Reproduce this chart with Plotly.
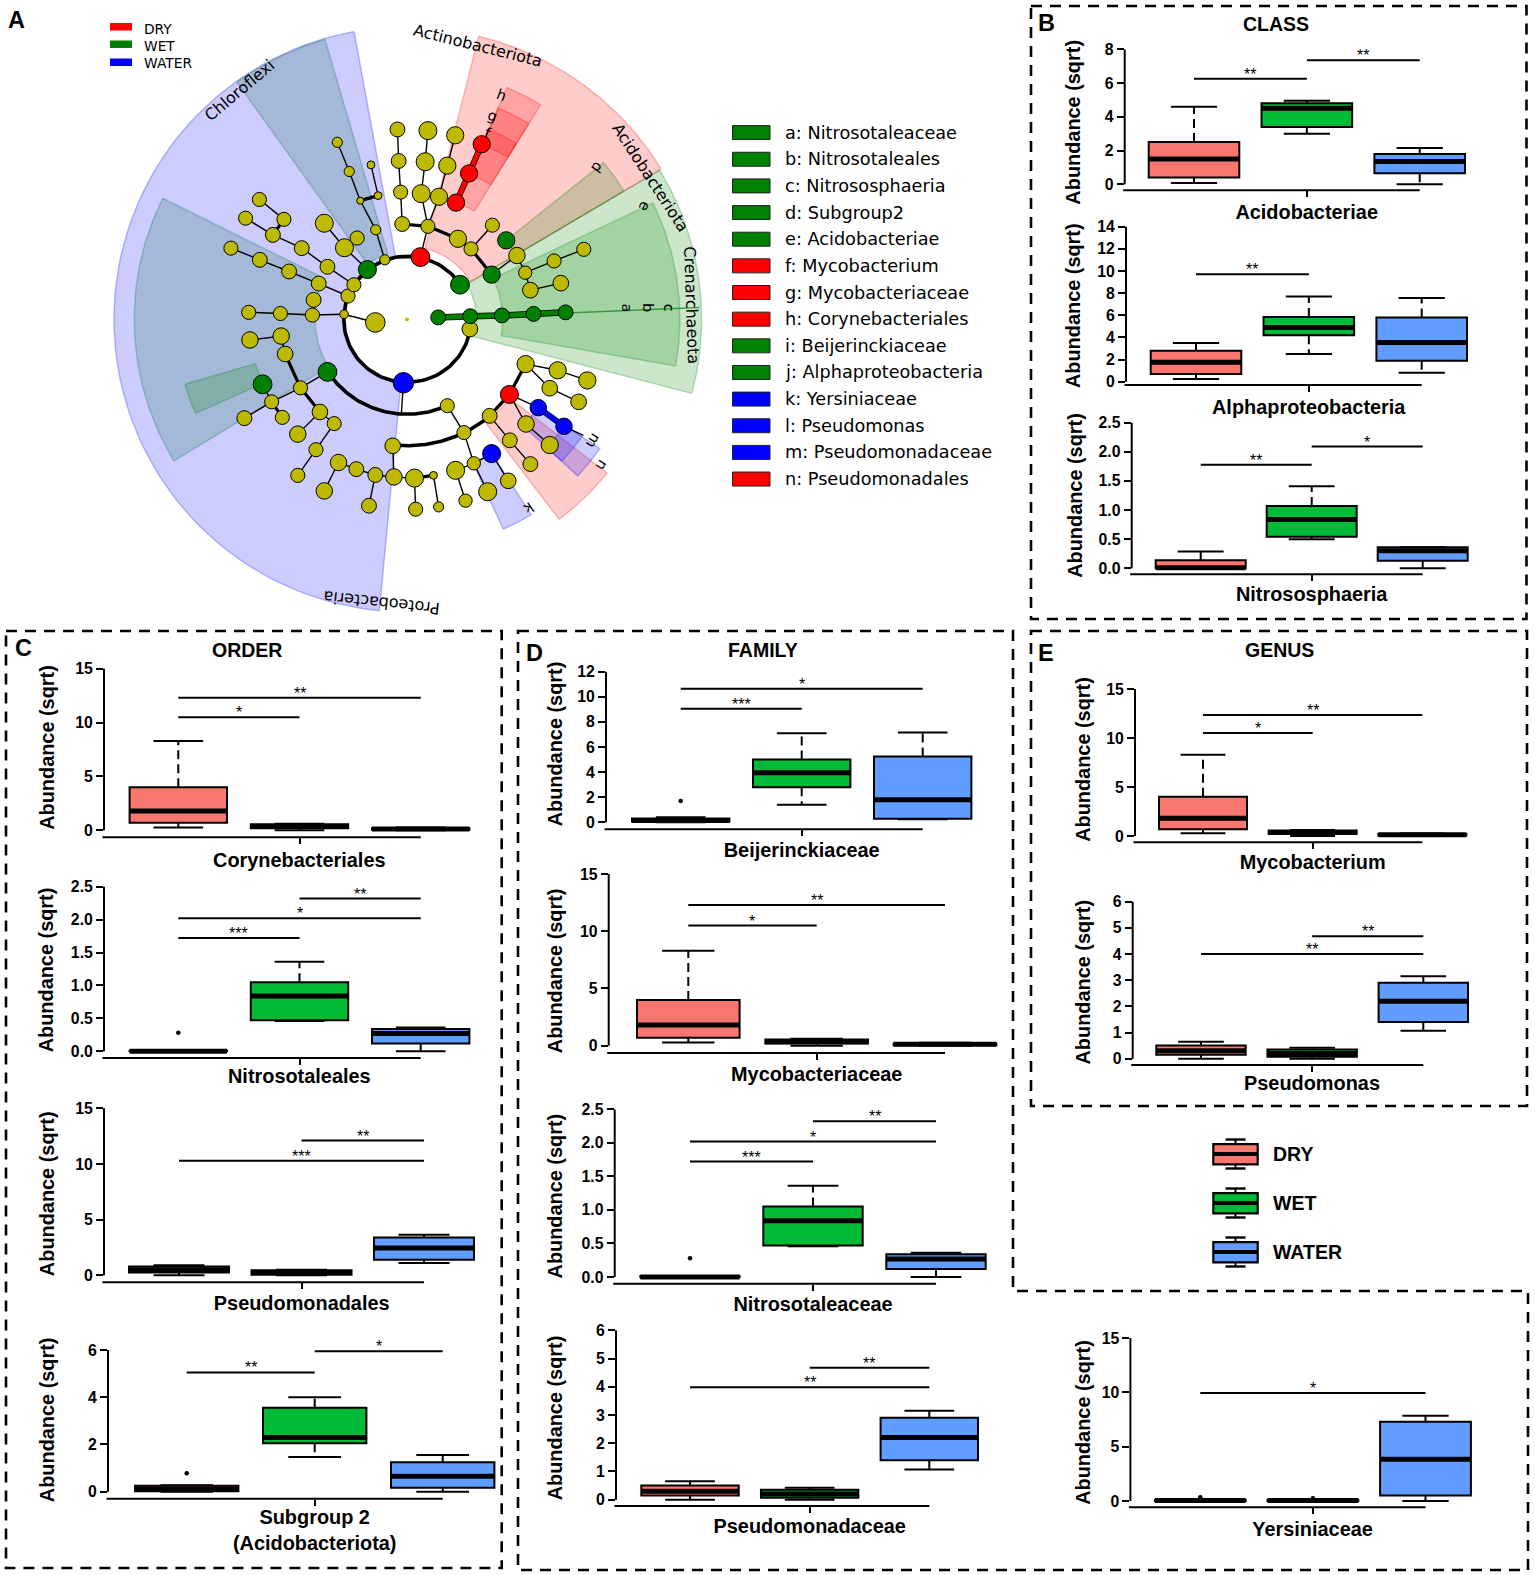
import numpy as np
import plotly.graph_objects as go

W, H = 1535, 1575
SANS = "Liberation Sans"
DEJA = "DejaVu Sans"
GROUP_NAMES = ["DRY", "WET", "WATER"]
BOX_COLORS = ["#F8766D", "#00BA38", "#619CFF"]

# ---------------- box-plot data (sqrt abundance) ----------------
taxa = ["Acidobacteriae", "Alphaproteobacteria", "Nitrososphaeria",
        "Corynebacteriales", "Nitrosotaleales", "Pseudomonadales", "Subgroup 2<br>(Acidobacteriota)",
        "Beijerinckiaceae", "Mycobacteriaceae", "Nitrosotaleaceae", "Pseudomonadaceae",
        "Mycobacterium", "Pseudomonas", "Yersiniaceae"]
y_ticks = [[0, 2, 4, 6, 8], [0, 2, 4, 6, 8, 10, 12, 14], [0, .5, 1, 1.5, 2, 2.5],
           [0, 5, 10, 15], [0, .5, 1, 1.5, 2, 2.5], [0, 5, 10, 15], [0, 2, 4, 6],
           [0, 2, 4, 6, 8, 10, 12], [0, 5, 10, 15], [0, .5, 1, 1.5, 2, 2.5], [0, 1, 2, 3, 4, 5, 6],
           [0, 5, 10, 15], [0, 1, 2, 3, 4, 5, 6], [0, 5, 10, 15]]
whisker_low = [[.07, 3.0, 0], [.25, 2.5, .8], [0, .5, 0],
               [.27, 0, 0], [0, .46, 0], [0, 0, 1.1], [0, 1.47, 0],
               [0, 1.4, .25], [.27, 0, 0], [0, .46, 0], [0, 0, 1.07],
               [.27, 0, 0], [0, 0, 1.07], [0, 0, 0]]
box_q1 = [[.4, 3.4, .65], [.7, 4.2, 1.9], [0, .54, .13],
          [.7, .2, .05], [0, .47, .12], [.25, .05, 1.4], [.02, 2.05, .17],
          [.05, 2.8, .28], [.7, .2, .05], [0, .47, .12], [.15, .07, 1.4],
          [.7, .2, .05], [.15, .07, 1.4], [0, 0, .5]]
box_median = [[1.5, 4.5, 1.35], [1.75, 4.9, 3.55], [.01, .84, .3],
              [1.8, .35, .13], [0, .84, .27], [.5, .25, 2.45], [.1, 2.3, .65],
              [.15, 3.95, 1.8], [1.8, .35, .13], [0, .84, .27], [.3, .2, 2.2],
              [1.8, .35, .13], [.3, .2, 2.2], [.05, .05, 3.85]]
box_q3 = [[2.5, 4.8, 1.8], [2.8, 5.85, 5.8], [.14, 1.07, .36],
          [4.0, .55, .2], [.01, 1.05, .34], [.8, .45, 3.4], [.25, 3.55, 1.25],
          [.3, 5.0, 5.25], [4.0, .55, .2], [.01, 1.05, .34], [.5, .35, 2.9],
          [4.0, .55, .2], [.5, .35, 2.9], [.1, .1, 7.3]]
whisker_high = [[4.6, 4.95, 2.15], [3.5, 7.7, 7.55], [.29, 1.41, .36],
                [8.3, .6, .25], [.01, 1.36, .36], [.9, .5, 3.65], [.27, 4.0, 1.55],
                [.4, 7.1, 7.15], [8.3, .6, .25], [.01, 1.36, .36], [.65, .42, 3.15],
                [8.3, .6, .25], [.65, .42, 3.15], [.12, .12, 7.85]]
outliers = [[None]*3, [None]*3, [None]*3,
            [None]*3, [.28, None, None], [None]*3, [.78, None, None],
            [1.7, None, None], [None]*3, [.28, None, None], [None]*3,
            [None]*3, [None]*3, [.35, .25, None]]
significance = [[(0, 1, 6.25, "**"), (1, 2, 7.35, "**")],
                [(0, 1, 9.7, "**")],
                [(0, 1, 1.78, "**"), (1, 2, 2.09, "*")],
                [(0, 1, 10.5, "*"), (0, 2, 12.3, "**")],
                [(0, 1, 1.72, "***"), (0, 2, 2.02, "*"), (1, 2, 2.32, "**")],
                [(0, 2, 10.3, "***"), (1, 2, 12.1, "**")],
                [(0, 1, 5.05, "**"), (1, 2, 5.95, "*")],
                [(0, 1, 9.05, "***"), (0, 2, 10.65, "*")],
                [(0, 1, 10.5, "*"), (0, 2, 12.3, "**")],
                [(0, 1, 1.72, "***"), (0, 2, 2.02, "*"), (1, 2, 2.32, "**")],
                [(0, 2, 3.98, "**"), (1, 2, 4.67, "**")],
                [(0, 1, 10.5, "*"), (0, 2, 12.35, "**")],
                [(0, 2, 4.0, "**"), (1, 2, 4.68, "**")],
                [(0, 2, 9.95, "*")]]

# ---------------- cladogram data ----------------
node_x = [752,755,760,764,829,822,812,829,898,878,857,905,938,992,1054,1075,1088,1165,1148,1223,
          810,910,990,1027,900,933,965,935,855,936,1016,1096,1177,696,776,617,537,456,376,627,
          540,553,642,478,404,331,676,720,575,510,437,403,368,465,618,650,567,697,658,703,
          685,630,600,575,507,468,458,379,411,434,365,461,556,592,500,546,500,767,878,920,
          985,1035,1076,1157,1232,1137,1210,1108,1173,1077,1137,1036,1088,740,945,990,899,980,1032,924,
          743,795,843,696,648,603,567,680,798,856]
node_y = [307,388,468,550,310,390,472,556,322,400,480,588,614,553,631,675,720,702,645,615,
          635,706,680,592,495,420,345,820,790,787,785,781,777,803,795,782,784,780,777,735,
          745,703,706,672,642,612,667,642,660,612,578,487,535,538,611,586,548,565,490,477,
          398,415,340,930,971,884,838,848,962,1007,1049,1047,1033,1063,1090,1130,1196,958,1017,1086,
          1043,988,910,926,952,972,1007,1022,1070,1064,1118,1106,1167,1120,1165,1140,1183,1238,1210,1261,
          1200,1203,1196,1195,1180,1163,1236,1274,1283,1277]
node_r = [19,19,18,19,23,23,23,18,22,22,22,22,18,18,21,17,20,20,18,18,
          24,24,22,22,22,22,22,20,19,19,19,19,19,25,5,11,18,18,18,18,
          19,19,18,19,19,18,23,13,19,19,19,18,18,18,23,18,23,13,9,10,
          10,13,13,24,18,20,21,21,24,18,19,18,20,18,21,18,18,26,18,18,
          19,23,22,22,22,20,20,21,21,21,22,19,19,20,17,23,23,23,20,17,
          21,23,10,19,19,21,21,19,18,13]
red_nodes = [20, 24, 25, 26, 81]
green_nodes = [21, 22, 23, 28, 29, 30, 31, 32, 46, 63, 68]
blue_nodes = [77, 87, 88, 95]
thin_edges = [(0,1),(1,2),(2,3),(4,5),(5,6),(6,7),(8,9),(9,10),(10,7),(12,13),(22,14),(14,15),(15,16),
              (16,17),(15,18),(18,19),(33,35),(35,36),(36,37),(37,38),(36,40),(39,41),(41,43),(43,44),
              (44,45),(42,48),(48,49),(49,50),(50,52),(53,51),(54,56),(46,54),(47,57),(57,58),(58,61),
              (61,62),(59,60),(65,66),(66,67),(64,69),(69,68),(69,70),(72,74),(72,73),(73,75),(75,76),
              (78,79),(79,94),(94,95),(94,96),(94,97),(95,98),(96,99),(80,91),(91,92),(89,90),(82,83),
              (83,84),(85,86),(81,87),(82,85),(93,100),(100,101),(103,100),(104,103),(105,104),(105,106),
              (103,107),(101,108),(102,109),(81,89),(7,20),(63,64)]
thick_edges = [(3,7),(7,11),(11,12),(12,22),(46,42),(42,39),(53,50),(54,55),(58,59),(64,65),(64,72),
               (69,71),(101,102),(80,81),(81,82)]
green_chain = [28, 29, 30, 31, 32]
red_chain = [24, 25, 26]
blue_chain = [87, 88]
stem_x = [[767, 762], [1173, 1222]]
stem_y = [[958, 1036], [1070, 1093]]
arc_radius = [162, 244, 325]
arc_start = [34, 214, 263.6]
arc_stop = [350, 295, 310]
sector_inner = [165, 188, 176, 175, 236, 405, 242, 320, 326, 406, 488, 330, 402, 483, 406]
sector_outer = [752, 750, 745, 750, 700, 594, 690, 640, 647, 590, 530, 642, 590, 535, 592]
sector_start = [100.4, 31, -14.8, 106.3, 153.6, 196.3, -10, 31, 58.5, 58.5, 58.5, -53.2, -43, -43, -65.7]
sector_stop = [264.6, 76, 31, 125.6, 211.3, 204, 25.7, 39, 67, 67, 67, -38, -34.3, -34.3, -58]
sector_color = ["0,0,255", "255,0,0", "0,128,0", "0,109,55", "0,109,55", "0,128,0", "0,128,0", "0,128,0",
                "255,0,0", "255,0,0", "255,0,0", "255,0,0", "0,0,255", "0,0,255", "0,0,255"]
clade_labels = ["Actinobacteriota", "Chloroflexi", "Acidobacteriota", "Crenarchaeota", "Proteobacteria",
                "a", "b", "c", "d", "e", "f", "g", "h", "k", "m", "n"]
clade_label_x = [955, 352, 1392, 1495, 713, 1332, 1387, 1438, 1258, 1375, 980, 993, 1015, 1083, 1248, 1268]
clade_label_y = [90, 207, 430, 760, 1523, 767, 765, 765, 405, 505, 315, 272, 218, 1280, 1107, 1170]
clade_label_angle = [14, -40, 57, 88, -174, 90, 90, 90, 125, 115, 20, 20, 20, 145, 122, 122]
legend_taxa = ["a: Nitrosotaleaceae", "b: Nitrosotaleales", "c: Nitrososphaeria", "d: Subgroup2",
               "e: Acidobacteriae", "f: Mycobacterium", "g: Mycobacteriaceae", "h: Corynebacteriales",
               "i: Beijerinckiaceae", "j: Alphaproteobacteria", "k: Yersiniaceae", "l: Pseudomonas",
               "m: Pseudomonadaceae", "n: Pseudomonadales"]
legend_taxa_color = ["green"]*5 + ["red"]*3 + ["green"]*2 + ["blue"]*3 + ["red"]

# ---------------- layout geometry (pixels) ----------------
# y0, ytop, axis x, x-line y, c0, c1, c2, half box width, y-title x, x-title centre y, y-title shift
geom = [
    (184.3, 49.3, 1124.7, 190.3, 1194, 1306.7, 1419.7, 45.3, 1073, 215.1, 2.5),
    (381.7, 226.7, 1126, 385, 1196, 1308.7, 1421.7, 45.3, 1073, 410.4, -1.5),
    (568.3, 422.7, 1131.7, 574.3, 1200.7, 1311.7, 1422.7, 45, 1075, 597.5, -3),
    (830.3, 668.7, 104, 837.3, 178.3, 299.3, 420.7, 48.7, 47, 862.8, -5),
    (1051.3, 886.7, 104, 1058, 178.3, 299.3, 420.7, 48.7, 46.5, 1079.5, -2),
    (1275.3, 1108.3, 104, 1282.3, 179, 301.7, 424, 50, 47, 1305.8, -1),
    (1491.7, 1350, 108, 1498.7, 186.7, 314.7, 442.7, 51.7, 47, 1532.5, -4),
    (822.3, 671.7, 606, 829.3, 680.7, 801.7, 922.7, 48.7, 555, 853.5, -6),
    (1045.7, 874, 608.7, 1053, 688.3, 816.7, 945, 51.3, 555, 1076.8, 8),
    (1277, 1109.3, 614.7, 1283.7, 690, 813, 936, 49.7, 555, 1307.5, 0),
    (1499.7, 1330.3, 616, 1506, 690, 809.7, 929.3, 48.7, 555, 1529.5, 0),
    (836, 689, 1135, 842.3, 1203, 1312.7, 1422.3, 44, 1083, 865.5, -6),
    (1058.7, 901.7, 1132.7, 1065, 1201, 1312, 1423.3, 44.7, 1083, 1085.8, -1),
    (1501, 1338, 1130.4, 1507.3, 1200.3, 1312.6, 1425.5, 45.4, 1083, 1532, 0),
]
FONT_TICK = 15.8
FONT_LABEL = 19.9
ELLIPSE_LEFT = 0.985


def fx(p):
    return p / W


def fy(p):
    return 1 - p / H


def squeeze(v):
    v = np.asarray(v, dtype=float)
    return np.where(v < 0, ELLIPSE_LEFT*v, v)


fig = go.Figure()
shapes, annotations = [], []
layout_axes = {}


def text(x, y, s, size=19.5, family=SANS, weight=700, angle=0, xanchor="center", yanchor="middle",
         xref="paper", yref="paper", color="black", yshift=0):
    annotations.append(dict(x=x, y=y, text=s, showarrow=False, xref=xref, yref=yref, textangle=angle,
                            xanchor=xanchor, yanchor=yanchor, yshift=yshift,
                            font=dict(family=family, size=size, color=color, weight=weight)))


# ---------------- panel A ----------------
SX, SY = 2.528, 2.57
CX, CY = 776, 795
layout_axes["xaxis"] = dict(domain=[fx(100), fx(720)], range=[0, 620*SX], visible=False, automargin=False)
layout_axes["yaxis"] = dict(domain=[fy(620), fy(10)], range=[610*SY, 0], visible=False, anchor="x", automargin=False)

for ri, ro, a0, a1, col in zip(sector_inner, sector_outer, sector_start, sector_stop, sector_color):
    t = np.radians(np.linspace(a0, a1, 80))
    xs = CX + squeeze(np.r_[ro*np.cos(t), ri*np.cos(t[::-1]), ro*np.cos(t[0])])
    ys = np.r_[CY - ro*np.sin(t), CY - ri*np.sin(t[::-1]), CY - ro*np.sin(t[0])]
    fig.add_trace(go.Scatter(x=xs, y=ys, mode="lines", fill="toself", fillcolor=f"rgba({col},0.2)",
                             line=dict(color=f"rgba({col},0.25)", width=1.5),
                             hoverinfo="skip", showlegend=False, xaxis="x", yaxis="y"))
# thin line of the a, b, c clades
thin_t = np.radians(2.35)
fig.add_trace(go.Scatter(x=[CX + 404*np.cos(thin_t), CX + 740*np.cos(thin_t)],
                         y=[CY - 404*np.sin(thin_t), CY - 740*np.sin(thin_t)],
                         mode="lines", line=dict(color="rgba(0,128,0,0.65)", width=1.5),
                         showlegend=False, hoverinfo="skip"))


def edge_trace(pairs, color, width):
    xs, ys = [], []
    for a, b in pairs:
        xs += [node_x[a], node_x[b], None]
        ys += [node_y[a], node_y[b], None]
    fig.add_trace(go.Scatter(x=xs, y=ys, mode="lines", line=dict(color=color, width=width),
                             showlegend=False, hoverinfo="skip", xaxis="x", yaxis="y"))


edge_trace(thin_edges, "black", 1.4)
edge_trace(thick_edges, "black", 3.2)
for sx_, sy_ in zip(stem_x, stem_y):
    fig.add_trace(go.Scatter(x=sx_, y=sy_, mode="lines", line=dict(color="black", width=1.4),
                             showlegend=False, hoverinfo="skip"))
for r, a0, a1 in zip(arc_radius, arc_start, arc_stop):
    t = np.radians(np.linspace(a0, a1, 120))
    fig.add_trace(go.Scatter(x=CX + squeeze(r*np.cos(t)), y=CY - r*np.sin(t), mode="lines",
                             line=dict(color="black", width=3.6), showlegend=False, hoverinfo="skip"))
for chain, col, wd in ((green_chain, "green", 5), (red_chain, "red", 4.5), (blue_chain, "blue", 4.5)):
    edge_trace(list(zip(chain[:-1], chain[1:])), "black", wd + 1.5)
    edge_trace(list(zip(chain[:-1], chain[1:])), col, wd)
node_color = ["#BDB800"] * len(node_x)
for i in red_nodes:
    node_color[i] = "red"
for i in green_nodes:
    node_color[i] = "#008000"
for i in blue_nodes:
    node_color[i] = "blue"
fig.add_trace(go.Scatter(x=node_x, y=node_y, mode="markers",
                         marker=dict(size=[2*r/2.55 for r in node_r], color=node_color,
                                     line=dict(color="black", width=[0 if r < 6 else 1 for r in node_r]), opacity=1),
                         showlegend=False, hoverinfo="skip"))
for s, x, y, a in zip(clade_labels, clade_label_x, clade_label_y, clade_label_angle):
    text(x, y, s, size=16 if len(s) > 1 else 14.5, family=DEJA, weight=400, angle=a, xref="x", yref="y")

# small group legend of panel A
for name, col, (y1, y2), ty in zip(GROUP_NAMES, ["red", "green", "blue"], [(23, 30.5), (40.5, 48), (58.5, 66)], [28.6, 46, 62.6]):
    shapes.append(dict(type="rect", xref="paper", yref="paper", x0=fx(110), x1=fx(132), y0=fy(y2), y1=fy(y1),
                       fillcolor=col, line=dict(width=0)))
    text(fx(141.8), fy(ty), name, size=13.8, family=DEJA, weight=400, xanchor="left")
# taxon legend
for i, (s, col) in enumerate(zip(legend_taxa, legend_taxa_color)):
    yc = 132.6 + 26.65*i
    shapes.append(dict(type="rect", xref="paper", yref="paper", x0=fx(732.5), x1=fx(770), y0=fy(yc+7), y1=fy(yc-7),
                       fillcolor=col, line=dict(color="#222", width=1)))
    text(fx(783), fy(yc), s, size=17.7, family=DEJA, weight=400, xanchor="left")

# ---------------- box panels ----------------
for n, (name, g) in enumerate(zip(taxa, geom)):
    k = n + 2
    xa, ya = f"x{k}", f"y{k}"
    y0, ytop, axx, xliney, c0, c1, c2, hw, ytx, xty, tshift = g
    ticks = y_ticks[n]
    vmax = ticks[-1]
    vpp = vmax / (y0 - ytop)
    unit = (c2 - c0) / 2
    right = 2*c1 - axx
    ybot = y0 + 6 + max(0, 2*tshift)
    ydom_top = ytop - max(0, -2*tshift)
    decimals = any(isinstance(t, float) and t != int(t) for t in ticks)
    labels = [f"{t:.1f}" if decimals else str(t) for t in ticks]
    label_w = max(len(l.replace(".", ""))*.556 + (.278 if "." in l else 0) for l in labels)*FONT_TICK
    y_standoff = max(0, (axx - 7 - 2 - label_w) - (ytx + FONT_LABEL*.55) - 4.5)
    lines = name.count("<br>") + 1
    x_standoff = max(0, xty - xliney - 7 - lines*FONT_LABEL*.6)
    layout_axes[f"xaxis{k}"] = dict(
        domain=[fx(axx), fx(right)], range=[(axx-c0)/unit, (right-c0)/unit], type="linear", automargin=False,
        anchor="free", position=fy(xliney), showgrid=False, zeroline=False, showline=False,
        ticks="outside", ticklen=6, tickwidth=2, tickcolor="black", tickvals=[1], ticktext=[""],
        title=dict(text=name, standoff=x_standoff, font=dict(family=SANS, size=FONT_LABEL, weight=700, color="black")))
    layout_axes[f"yaxis{k}"] = dict(
        domain=[fy(ybot), fy(ydom_top)], range=[-(ybot-y0)*vpp, vmax + (ytop-ydom_top)*vpp], anchor=xa,
        showgrid=False, zeroline=False, automargin=False,
        showline=False, ticks="outside", ticklen=7, tickwidth=2, tickcolor="black", tickvals=ticks, ticktext=labels,
        tickfont=dict(family=SANS, size=FONT_TICK, weight=700, color="black"),
        title=dict(text="Abundance (sqrt)", standoff=y_standoff,
                   font=dict(family=SANS, size=FONT_LABEL, weight=700, color="black")))
    shapes.append(dict(type="line", xref="paper", yref=ya, x0=fx(axx), x1=fx(axx), y0=0, y1=vmax,
                       line=dict(color="black", width=2)))
    shapes.append(dict(type="line", xref="paper", yref="paper", x0=fx(axx-1.5), x1=fx(c2), y0=fy(xliney), y1=fy(xliney),
                       line=dict(color="black", width=2)))
    bw = 2*hw/unit
    cap = hw*.51/unit
    for i in range(3):
        q1, med, q3, lo, hi = box_q1[n][i], box_median[n][i], box_q3[n][i], whisker_low[n][i], whisker_high[n][i]
        for a, b in ((q3, hi), (q1, lo)):
            fig.add_trace(go.Scatter(x=[i, i], y=[a, b], mode="lines", xaxis=xa, yaxis=ya, showlegend=False,
                                     line=dict(color="black", width=2, dash="9px,5px"), hoverinfo="skip"))
        for v in (lo, hi):
            fig.add_trace(go.Scatter(x=[i-cap, i+cap], y=[v, v], mode="lines", xaxis=xa, yaxis=ya, showlegend=False,
                                     line=dict(color="black", width=2), hoverinfo="skip"))
        fig.add_trace(go.Box(x=[i], q1=[q1], median=[med], q3=[q3], lowerfence=[q1], upperfence=[q3], width=bw,
                             name=GROUP_NAMES[i], fillcolor=BOX_COLORS[i], line=dict(color="black", width=2),
                             whiskerwidth=0, boxpoints=False, xaxis=xa, yaxis=ya, showlegend=False))
        fig.add_trace(go.Scatter(x=[i-bw/2, i+bw/2], y=[med, med], mode="lines", xaxis=xa, yaxis=ya, showlegend=False,
                                 line=dict(color="black", width=5), hoverinfo="skip"))
        if outliers[n][i] is not None:
            fig.add_trace(go.Scatter(x=[i], y=[outliers[n][i]], mode="markers", xaxis=xa, yaxis=ya, showlegend=False,
                                     marker=dict(color="black", size=4.5), hoverinfo="skip"))
    for a, b, level, stars in significance[n]:
        fig.add_trace(go.Scatter(x=[a, b], y=[level, level], mode="lines", xaxis=xa, yaxis=ya, showlegend=False,
                                 line=dict(color="black", width=2), hoverinfo="skip"))
        text((a+b)/2, level, stars, size=16, weight=400, xref=xa, yref=ya, yanchor="bottom", yshift=-6)

# ---------------- box legend ----------------
legend_q = dict(lo=0, q1=.14, med=.5, q3=.84, hi=1)
k = len(geom) + 2
for i, (yc, name, col) in enumerate(zip([1154, 1203, 1252], GROUP_NAMES, BOX_COLORS)):
    xa, ya = f"x{k+i}", f"y{k+i}"
    layout_axes[f"xaxis{k+i}"] = dict(domain=[fx(1205), fx(1266)], range=[-30.5, 30.5], visible=False, type="linear",
                                      automargin=False)
    layout_axes[f"yaxis{k+i}"] = dict(domain=[fy(yc+18), fy(yc-18)], range=[-3.5/28.9, 1+3.5/28.9],
                                      visible=False, anchor=xa, automargin=False)
    for a, b in ((legend_q["q3"], legend_q["hi"]), (legend_q["q1"], legend_q["lo"])):
        fig.add_trace(go.Scatter(x=[0, 0], y=[a, b], mode="lines", xaxis=xa, yaxis=ya, showlegend=False,
                                 line=dict(color="black", width=2), hoverinfo="skip"))
    for v in (legend_q["lo"], legend_q["hi"]):
        fig.add_trace(go.Scatter(x=[-10, 10], y=[v, v], mode="lines", xaxis=xa, yaxis=ya, showlegend=False,
                                 line=dict(color="black", width=2.4), hoverinfo="skip"))
    fig.add_trace(go.Box(x=[0], q1=[legend_q["q1"]], median=[legend_q["med"]], q3=[legend_q["q3"]],
                         lowerfence=[legend_q["q1"]], upperfence=[legend_q["q3"]], width=44.4, fillcolor=col,
                         line=dict(color="black", width=2.2), whiskerwidth=0, boxpoints=False, name=name,
                         xaxis=xa, yaxis=ya, showlegend=False))
    fig.add_trace(go.Scatter(x=[-22.2, 22.2], y=[.5, .5], mode="lines", xaxis=xa, yaxis=ya, showlegend=False,
                             line=dict(color="black", width=4), hoverinfo="skip"))
    text(fx(1271), fy(yc), name, size=19.5, xanchor="left")

# ---------------- frames and headings ----------------
frames = [[(1031, 6), (1526.5, 6), (1526.5, 619), (1031, 619)],
          [(6, 631), (501.7, 631), (501.7, 1568), (6, 1568)],
          [(518, 631), (1013, 631), (1013, 1291), (1528, 1291), (1528, 1570), (518, 1570)],
          [(1031, 631), (1527, 631), (1527, 1106), (1031, 1106)]]
for fr in frames:
    d = "M " + " L ".join(f"{fx(a):.5f} {fy(b):.5f}" for a, b in fr) + " Z"
    shapes.append(dict(type="path", xref="paper", yref="paper", path=d, line=dict(color="black", width=2.6, dash="11px,8px")))
for s, x, y in (("CLASS", 1275.7, 24.3), ("ORDER", 247.3, 650), ("FAMILY", 762.7, 650), ("GENUS", 1279.3, 650)):
    text(fx(x), fy(y), s)
for s, x, y in (("A", 16, 20), ("B", 1046.7, 23), ("C", 23.3, 648), ("D", 534.3, 652.7), ("E", 1045.7, 652.7)):
    text(fx(x), fy(y), s, size=23.5)

fig.update_layout(width=W, height=H, margin=dict(l=0, r=0, t=0, b=0, autoexpand=False), paper_bgcolor="white",
                  plot_bgcolor="rgba(0,0,0,0)",
                  showlegend=False, boxmode="overlay", shapes=shapes, annotations=annotations, **layout_axes)
fig.write_html("out.html", config=dict(displayModeBar=False),
               post_script="document.body.style.margin='0';")
